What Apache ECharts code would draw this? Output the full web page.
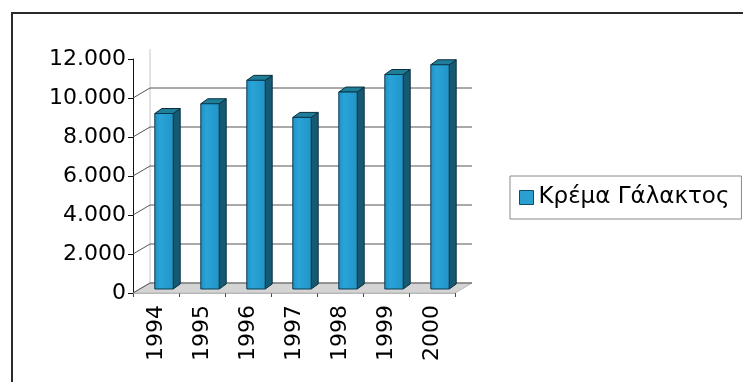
<!DOCTYPE html>
<html>
<head>
<meta charset="utf-8">
<script src="https://cdn.jsdelivr.net/npm/echarts@6/dist/echarts.min.js"></script>
<style>
  html, body { margin: 0; padding: 0; background: #fff; }
  #chart { width: 743px; height: 382px; }
</style>
</head>
<body>
<div id="chart"></div>
<script>
// Annual figures for "Κρέμα Γάλακτος"
const categories = ['1994', '1995', '1996', '1997', '1998', '1999', '2000'];
const sales = [9000, 9500, 10700, 8800, 10100, 11000, 11500];
const wallTicks = [0, 2000, 4000, 6000, 8000, 10000];
const seriesName = 'Κρέμα Γάλακτος';

const FONT = 'DejaVu Sans';
// perspective offset of the back wall relative to the front plane
const DEPTH_X = 17, DEPTH_Y = -10;
// bars sit half-way into the depth
const MID_X = 8, MID_Y = -4;
const BAR_SIDE_X = 7, BAR_SIDE_Y = -5;

const chart = echarts.init(document.getElementById('chart'), null, { renderer: 'canvas' });

function thousands(v) {
  return String(v).replace(/\B(?=(\d{3})+(?!\d))/g, '.');
}

const option = {
  animation: false,
  backgroundColor: '#ffffff',
  grid: { left: 133, top: 59, width: 322, height: 234, containLabel: false },
  xAxis: {
    type: 'category',
    data: categories,
    axisLine: { show: true, lineStyle: { color: '#b5b5b5', width: 1 } },
    axisTick: { show: true, length: 4, lineStyle: { color: '#444' } },
    axisLabel: {
      rotate: 90, margin: 12, fontSize: 22, fontFamily: FONT, color: '#000'
    },
    splitLine: { show: false }
  },
  yAxis: {
    type: 'value',
    min: 0, max: 12000, interval: 2000,
    axisLine: { show: true, lineStyle: { color: '#111', width: 1 } },
    axisTick: { show: true, length: 5, lineStyle: { color: '#111' } },
    axisLabel: {
      margin: 7, fontSize: 22, fontFamily: FONT, color: '#000',
      formatter: thousands
    },
    splitLine: { show: false }
  },
  legend: {
    show: true,
    left: 510, top: 176,
    orient: 'vertical',
    padding: [10, 12, 10, 9],
    borderColor: '#8a8a8a', borderWidth: 1,
    itemWidth: 14, itemHeight: 14, itemGap: 0,
    textStyle: { fontSize: 23, fontFamily: FONT, color: '#000' },
    data: [{
      name: seriesName, icon: 'rect',
      itemStyle: { color: '#2a9fd0', borderColor: '#0d4d66', borderWidth: 1 }
    }]
  },
  graphic: [{
    type: 'rect',
    shape: { x: 12, y: 13, width: 800, height: 500 },
    style: { fill: null, stroke: '#2a2a2a', lineWidth: 2 },
    silent: true
  }],
  series: [
    {
      // floor of the plot area
      type: 'custom',
      name: 'floor',
      z: 1,
      data: [[0]],
      renderItem: function (params, api) {
        const cs = params.coordSys;
        const x0 = cs.x, x1 = cs.x + cs.width;
        const y0 = api.coord([0, 0])[1];
        return {
          type: 'group',
          children: [{
            type: 'polygon',
            shape: { points: [[x0, y0], [x1, y0], [x1 + DEPTH_X, y0 + DEPTH_Y], [x0 + DEPTH_X, y0 + DEPTH_Y]] },
            style: { fill: '#d4d4d4', stroke: '#b8b8b8', lineWidth: 1 }
          }, {
            type: 'line',
            shape: { x1: x0 + DEPTH_X, y1: y0 + DEPTH_Y, x2: x0 + DEPTH_X, y2: cs.y + DEPTH_Y },
            style: { stroke: '#c4c4c4', lineWidth: 1 }
          }]
        };
      },
      silent: true
    },
    {
      // gridlines on the side and back walls
      type: 'custom',
      name: 'walls',
      z: 2,
      data: wallTicks.map(function (v) { return [0, v]; }),
      encode: { x: 0, y: 1 },
      renderItem: function (params, api) {
        const cs = params.coordSys;
        const x0 = cs.x, x1 = cs.x + cs.width;
        const y = api.coord([0, api.value(1)])[1];
        return {
          type: 'group',
          children: [{
            type: 'line',
            shape: { x1: x0, y1: y, x2: x0 + DEPTH_X, y2: y + DEPTH_Y },
            style: { stroke: '#555', lineWidth: 1 }
          }, {
            type: 'line',
            shape: { x1: x0 + DEPTH_X, y1: y + DEPTH_Y, x2: x1 + DEPTH_X, y2: y + DEPTH_Y },
            style: { stroke: '#555', lineWidth: 1 }
          }]
        };
      },
      silent: true
    },
    {
      // 3D columns
      type: 'custom',
      name: seriesName,
      z: 3,
      itemStyle: { color: '#2a9fd0' },
      data: sales.map(function (v, i) { return [i, v]; }),
      encode: { x: 0, y: 1 },
      renderItem: function (params, api) {
        const base = api.coord([api.value(0), 0]);
        const top = api.coord([api.value(0), api.value(1)]);
        const half = api.size([1, 0])[0] * 0.2;
        const cx = base[0] + MID_X;
        const by = base[1] + MID_Y;
        const ty = top[1] + MID_Y;
        const l = cx - half, r = cx + half;
        return {
          type: 'group',
          children: [{
            type: 'polygon',
            shape: { points: [[r, ty], [r + BAR_SIDE_X, ty + BAR_SIDE_Y], [r + BAR_SIDE_X, by + BAR_SIDE_Y], [r, by]] },
            style: { fill: '#155a72', stroke: '#0a2f3d', lineWidth: 1 }
          }, {
            type: 'polygon',
            shape: { points: [[l, ty], [l + BAR_SIDE_X, ty + BAR_SIDE_Y], [r + BAR_SIDE_X, ty + BAR_SIDE_Y], [r, ty]] },
            style: { fill: '#1f7f98', stroke: '#0a2f3d', lineWidth: 1 }
          }, {
            type: 'rect',
            shape: { x: l, y: ty, width: r - l, height: by - ty },
            style: {
              fill: new echarts.graphic.LinearGradient(0, 0, 1, 0, [
                { offset: 0, color: '#2090c2' },
                { offset: 0.3, color: '#29a3d8' },
                { offset: 1, color: '#2294c6' }
              ]),
              stroke: '#0b3a4f', lineWidth: 1
            }
          }]
        };
      }
    }
  ]
};

chart.setOption(option);
</script>
</body>
</html>
